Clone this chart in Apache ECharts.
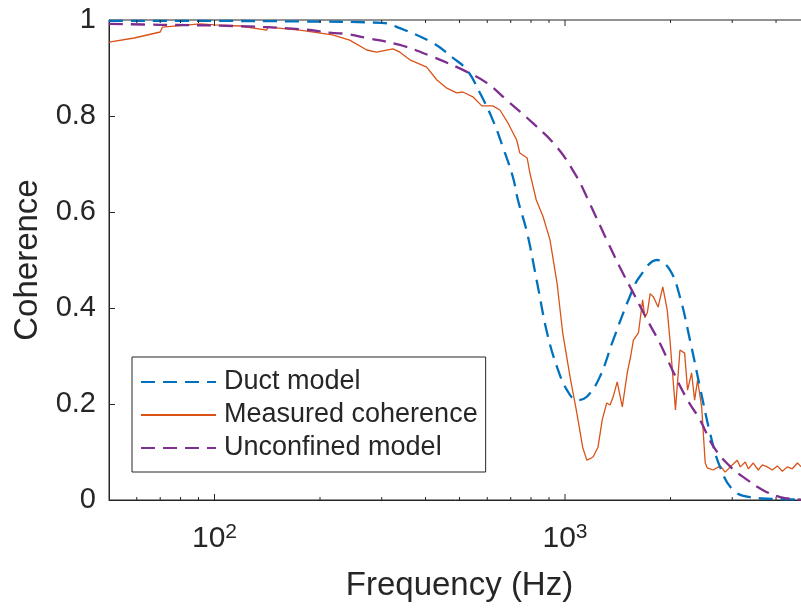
<!DOCTYPE html>
<html>
<head>
<meta charset="utf-8">
<script src="https://cdn.jsdelivr.net/npm/echarts@6/dist/echarts.min.js"></script>
<style>html,body{margin:0;padding:0;background:#fff}#c{width:801px;height:608px}</style>
</head>
<body>
<div id="c"></div>
<script>
// ---- data ----
const ductFreq = [50, 100, 175, 300, 338, 420, 479, 525, 572, 622, 665, 710, 734, 780, 833, 889, 949, 1013, 1081, 1154, 1256, 1372, 1529, 1633, 1830, 1993, 2128, 2273, 2427, 2592, 2768, 3014, 3370, 4110, 5000];
const ductVal  = [0.998, 0.998, 0.997, 0.994, 0.983, 0.952, 0.921, 0.896, 0.848, 0.792, 0.735, 0.673, 0.625, 0.556, 0.452, 0.348, 0.277, 0.229, 0.208, 0.215, 0.256, 0.333, 0.423, 0.465, 0.500, 0.479, 0.423, 0.333, 0.235, 0.140, 0.069, 0.021, 0.006, 0.002, 0.001];

const unconfFreq = [50, 70, 113, 175, 217, 238, 272, 338, 420, 525, 598, 682, 810, 949, 1081, 1154, 1315, 1434, 1567, 1717, 1864, 2042, 2237, 2427, 2658, 2967, 3310, 3663, 4110, 4690, 5000];
const unconfVal  = [0.992, 0.990, 0.9875, 0.981, 0.973, 0.971, 0.9625, 0.948, 0.923, 0.892, 0.869, 0.833, 0.785, 0.735, 0.673, 0.631, 0.542, 0.485, 0.431, 0.375, 0.327, 0.265, 0.208, 0.167, 0.110, 0.069, 0.042, 0.021, 0.006, 0.001, 0.0];

const measFreq = [50, 59, 70, 71, 91, 100, 118, 141, 142, 175, 217, 243, 272, 290, 323, 338, 361, 403, 431, 460, 491, 511, 546, 579, 622, 652, 688, 728, 743, 780, 794, 828, 866, 906, 949, 985, 1034, 1081, 1123, 1154, 1180, 1203, 1242, 1277, 1315, 1345, 1372, 1409, 1457, 1505, 1540, 1567, 1620, 1665, 1690, 1717, 1750, 1788, 1843, 1901, 1957, 1993, 2066, 2128, 2194, 2237, 2297, 2343, 2389, 2454, 2512, 2545, 2648, 2773, 2865, 2961, 3100, 3162, 3268, 3334, 3444, 3559, 3655, 3777, 3903, 4034, 4169, 4308, 4452, 4602, 4724, 5000];
const measVal  = [0.954, 0.9625, 0.975, 0.985, 0.992, 0.990, 0.9875, 0.979, 0.985, 0.979, 0.969, 0.958, 0.9375, 0.933, 0.940, 0.933, 0.917, 0.902, 0.875, 0.858, 0.848, 0.850, 0.840, 0.821, 0.821, 0.8125, 0.785, 0.750, 0.723, 0.7125, 0.681, 0.625, 0.590, 0.542, 0.452, 0.348, 0.256, 0.181, 0.110, 0.083, 0.086, 0.090, 0.110, 0.167, 0.202, 0.198, 0.215, 0.246, 0.194, 0.265, 0.300, 0.333, 0.348, 0.417, 0.380, 0.390, 0.430, 0.423, 0.402, 0.444, 0.396, 0.333, 0.1875, 0.3125, 0.306, 0.229, 0.265, 0.208, 0.250, 0.194, 0.077, 0.067, 0.0625, 0.071, 0.058, 0.069, 0.083, 0.069, 0.079, 0.065, 0.077, 0.0625, 0.073, 0.069, 0.0625, 0.071, 0.060, 0.069, 0.065, 0.077, 0.069, 0.070];

const majorTicks = [100, 1000];
const minorTicks = [60, 70, 80, 90, 200, 300, 400, 500, 600, 700, 800, 900, 2000, 3000, 4000];
const seriesNames = ['Duct model', 'Measured coherence', 'Unconfined model'];

// ---- chart ----
const FONT = "'Liberation Sans', Arial, Helvetica, sans-serif";
const INK = '#262626';
const zip = (a, b) => a.map((v, i) => [v, b[i]]);

function tickSeries(ticks, len) {
  return {
    type: 'custom', silent: true, clip: false, z: 5,
    data: ticks.map(f => [f, 0]),
    encode: { x: 0, y: 1 },
    renderItem(params, api) {
      const f = api.value(0);
      const b = api.coord([f, 0]);
      const t = api.coord([f, 1]);
      return {
        type: 'group',
        children: [
          { type: 'line', shape: { x1: b[0], y1: b[1], x2: b[0], y2: b[1] - len }, style: { stroke: INK, lineWidth: 1 } },
          { type: 'line', shape: { x1: t[0], y1: t[1], x2: t[0], y2: t[1] + len }, style: { stroke: INK, lineWidth: 1 } }
        ]
      };
    }
  };
}

const chart = echarts.init(document.getElementById('c'), null, { renderer: 'canvas' });
chart.setOption({
  animation: false,
  backgroundColor: '#fff',
  textStyle: { fontFamily: FONT },
  grid: { left: 109, top: 20, bottom: 108, right: -9, containLabel: false, outerBoundsMode: 'none', show: true, borderColor: INK, borderWidth: 1, backgroundColor: 'transparent' },
  legend: {
    data: seriesNames,
    orient: 'vertical',
    left: 132, top: 357,
    padding: [10, 8, 9, 8],
    itemGap: 3,
    itemWidth: 75, itemHeight: 14,
    backgroundColor: '#fff',
    borderColor: INK, borderWidth: 1,
    itemStyle: { opacity: 0 },
    textStyle: { fontFamily: FONT, fontSize: 27, lineHeight: 30, color: INK, padding: [0, 0, 0, 3] }
  },
  xAxis: {
    type: 'log', logBase: 10, min: 50, max: 5000,
    name: 'Frequency (Hz)', nameLocation: 'middle', nameGap: 69,
    nameTextStyle: { fontFamily: FONT, fontSize: 33, color: INK },
    axisLine: { show: true, lineStyle: { color: INK, width: 1 } },
    axisTick: { show: false },
    splitLine: { show: false },
    minorTick: { show: false },
    axisLabel: {
      margin: 22, color: INK, fontFamily: FONT,
      showMinLabel: false, showMaxLabel: false,
      formatter(v) {
        const e = Math.log10(v);
        if (Math.abs(e - Math.round(e)) > 1e-6) return '';
        return '{b|10}{s|' + Math.round(e) + '}';
      },
      rich: {
        b: { fontSize: 30, lineHeight: 32, fontFamily: FONT, color: INK, verticalAlign: 'bottom' },
        s: { fontSize: 21, lineHeight: 21, fontFamily: FONT, color: INK, verticalAlign: 'top' }
      }
    }
  },
  yAxis: {
    type: 'value', min: 0, max: 1, interval: 0.2,
    name: 'Coherence', nameLocation: 'middle', nameGap: 65, nameRotate: 90,
    nameTextStyle: { fontFamily: FONT, fontSize: 33, color: INK },
    axisLine: { show: true, lineStyle: { color: INK, width: 1 } },
    axisTick: { show: true, inside: true, length: 6, lineStyle: { color: INK } },
    splitLine: { show: false },
    axisLabel: { fontSize: 29, color: INK, margin: 13, fontFamily: FONT }
  },
  series: [
    {
      name: seriesNames[0], type: 'line', showSymbol: false, symbol: 'none', smooth: 0.4,
      data: zip(ductFreq, ductVal), z: 3,
      lineStyle: { color: '#0072BD', width: 2.3, type: [14, 8] },
      itemStyle: { color: '#0072BD' }
    },
    {
      name: seriesNames[1], type: 'line', showSymbol: false, symbol: 'none',
      data: zip(measFreq, measVal), z: 2,
      lineStyle: { color: '#D95319', width: 1.3 },
      itemStyle: { color: '#D95319' }
    },
    {
      name: seriesNames[2], type: 'line', showSymbol: false, symbol: 'none', smooth: 0.4,
      data: zip(unconfFreq, unconfVal), z: 3,
      lineStyle: { color: '#7E2F8E', width: 2.3, type: [14, 8] },
      itemStyle: { color: '#7E2F8E' }
    },
    tickSeries(majorTicks, 6),
    tickSeries(minorTicks, 3)
  ]
});
</script>
</body>
</html>
